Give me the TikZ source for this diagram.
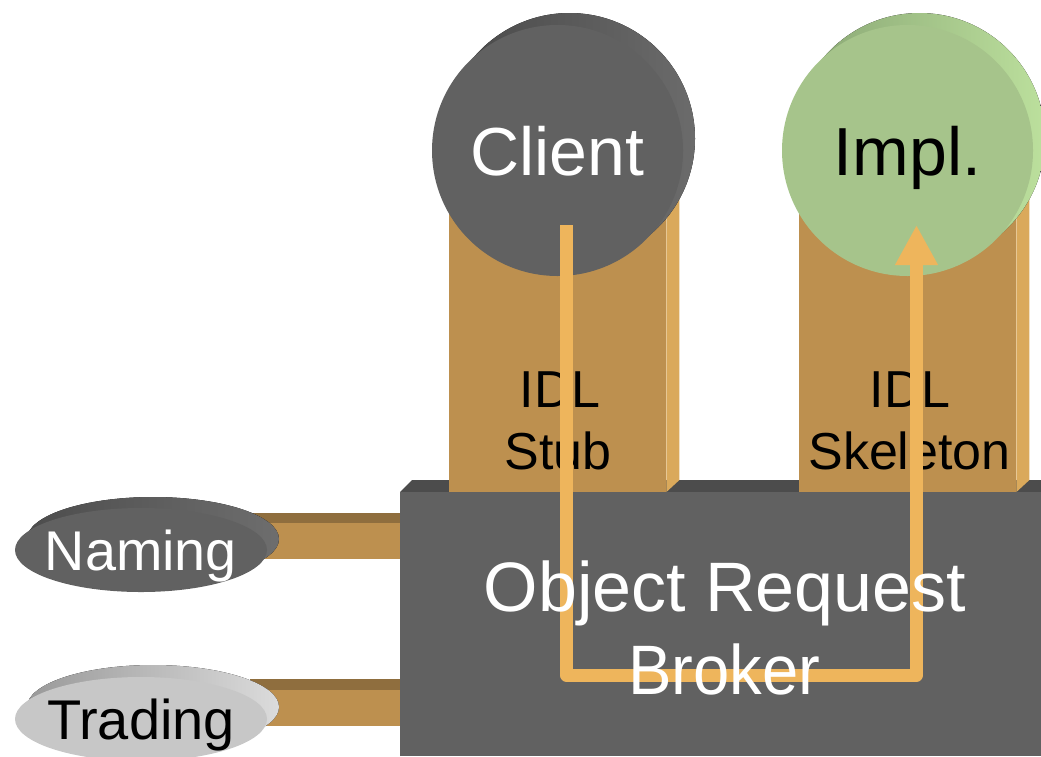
\documentclass[tikz,border=0pt]{standalone}
\usepackage{fontspec}
\setmainfont{Liberation Sans}
\usetikzlibrary{shapes.geometric, arrows.meta}
\definecolor{orbgray}{HTML}{616161}
\definecolor{orbtop}{HTML}{4C4C4C}
\definecolor{stubtan}{HTML}{BD904F}
\definecolor{stubside}{HTML}{DAA95B}
\definecolor{bartop}{HTML}{8F6E3E}
\definecolor{implgreen}{HTML}{A6C48B}
\definecolor{flowtan}{HTML}{EEB55C}
\definecolor{tradegray}{HTML}{C7C7C7}
\tikzstyle{disc} = [circle, minimum size=251pt, inner sep=0pt, text depth=0pt, font=\fontsize{68}{80}\selectfont]
\tikzstyle{puck} = [ellipse, minimum width=252pt, minimum height=84pt, inner sep=0pt, text depth=0pt, font=\fontsize{56}{64}\selectfont]
\tikzstyle{idltext} = [anchor=base, font=\fontsize{52}{60}\selectfont]
\tikzstyle{orbtext} = [anchor=base, text=white, font=\fontsize{70}{80}\selectfont]
\tikzstyle{flow} = [line width=13pt, draw=flowtan, line join=round, -{Triangle[width=40pt,length=40pt]}]

\begin{document}
\begin{tikzpicture}[x=1pt, y=-1pt]
\useasboundingbox (0,0) rectangle (1041,756);
\clip (0,0) rectangle (1041,756);

% Centres
\coordinate (nc) at (141,550);
\coordinate (tc) at (141,719);
\coordinate (cc) at (557.5,150.5);
\coordinate (ic) at (907.5,150.5);

% Services bars
\fill[bartop] (250,513) rectangle (400,523);
\fill[stubtan] (250,523) rectangle (400,559);
\fill[bartop] (250,679) rectangle (400,690);
\fill[stubtan] (250,690) rectangle (400,726);

% Services
\fill[left color=black!70, right color=black!57] ([shift={(12,-11)}]nc) ellipse[x radius=126, y radius=42];
\node[puck, fill=orbgray, text=white] (naming) at (nc) {\makebox[0pt]{\resizebox{192pt}{\height}{Naming}}};
\fill[left color=black!40, right color=black!14] ([shift={(12,-12)}]tc) ellipse[x radius=126, y radius=42];
\node[puck, fill=tradegray] (trading) at (tc) {\makebox[0pt]{Trading}};

% ORB
\fill[orbtop] (400,492) -- (412,480) -- (1041,480) -- (1041,492) -- cycle;
\node[fill=orbgray, minimum width=641pt, minimum height=264pt, inner sep=0pt, anchor=north west] (orb) at (400,492) {};

% Stub and skeleton
\node[fill=stubtan, minimum width=217pt, minimum height=342pt, inner sep=0pt, anchor=south west] (stub) at (449,492) {};
\fill[stubside] (stub.south east) -- ++(13,-12) -- ++(0,-330) -- (stub.north east) -- cycle;
\node[fill=stubtan, minimum width=217pt, minimum height=342pt, inner sep=0pt, anchor=south west] (skel) at (799,492) {};
\fill[stubside] (skel.south east) -- ++(13,-12) -- ++(0,-330) -- (skel.north east) -- cycle;

% Client and implementation
\fill[left color=black!72, right color=black!58] ([shift={(12,-12)}]cc) circle[radius=125.5];
\node[disc, fill=orbgray, text=white] (client) at (cc) {Client};
\fill[left color={rgb,255:red,136;green,165;blue,115}, right color={rgb,255:red,188;green,224;blue,157}] ([shift={(12,-12)}]ic) circle[radius=125.5];
\node[disc, fill=implgreen] (impl) at (ic) {Impl.};

% Labels
\node[idltext] (idla) at (560,407) {IDL};
\node[idltext] (stubl) at (558,469) {Stub};
\node[idltext] (idlb) at (910,407) {IDL};
\node[idltext] (skell) at (909.5,469) {Skeleton};

% Request
\coordinate (callout) at (566.5,225);
\coordinate (turn) at (741.5,675);
\coordinate (callin) at (916.5,225);
\draw[flow] (callout) |- (turn) -| (callin);

\node[orbtext] (orba) at (725,611) {Object Request};
\node[orbtext] (orbb) at (724,694) {\resizebox{192pt}{\height}{Broker}};

\end{tikzpicture}
\end{document}
